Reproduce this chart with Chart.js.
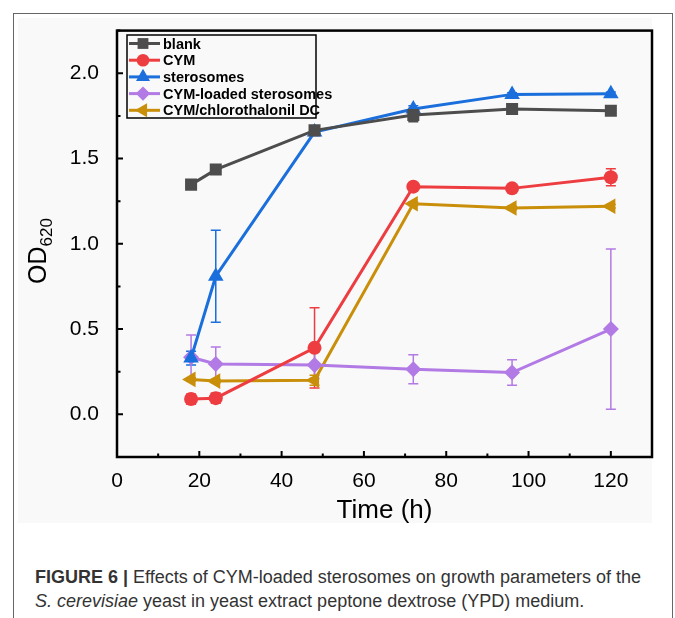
<!DOCTYPE html>
<html>
<head>
<meta charset="utf-8">
<script src="https://cdn.jsdelivr.net/npm/chart.js@4.4.0/dist/chart.umd.min.js"></script>
<style>
  body { margin: 0; background: #fff; width: 675px; height: 618px; overflow: hidden; position: relative; }
  #frame { position: absolute; left: 13px; top: 13px; width: 658px; height: 620px; border: 1px solid #666; border-bottom: none; }
  #bg { position: absolute; left: 18px; top: 18px; width: 634px; height: 505px; background: #f9f9f9; }
  #plot { position: absolute; left: 18px; top: 8px; width: 643px; height: 522px; }
  #caption { position: absolute; left: 35px; top: 565px; font-family: "Liberation Sans", Arial, sans-serif; font-size: 18px; line-height: 24px; color: #333; }
</style>
</head>
<body>
<div id="frame"></div>
<div id="bg"></div>
<div id="plot"><canvas id="growthChart"></canvas></div>
<div id="caption"><b>FIGURE 6 |</b> Effects of CYM-loaded sterosomes on growth parameters of the<br><i>S. cerevisiae</i> yeast in yeast extract peptone dextrose (YPD) medium.</div>
<script>
  // time points (h)
  const hours = [18, 24, 48, 72, 96, 120];

  const blank = [1.347, 1.435, 1.665, 1.755, 1.79, 1.78];
  const blankErr = [0.01, 0.01, 0.01, 0.04, 0.01, 0.01];
  const cym = [0.09, 0.095, 0.39, 1.335, 1.325, 1.39];
  const cymErr = [0.03, 0.03, 0.235, 0.01, 0.01, 0.05];
  const sterosomes = [0.33, 0.81, 1.655, 1.79, 1.876, 1.88];
  const sterosomesErr = [0.04, 0.27, 0.01, 0.02, 0.01, 0.01];
  const loaded = [0.335, 0.295, 0.29, 0.265, 0.245, 0.50];
  const loadedErr = [0.13, 0.1, 0.08, 0.085, 0.075, 0.47];
  const mixDC = [0.205, 0.195, 0.20, 1.235, 1.21, 1.22];
  const mixDCErr = [0.01, 0.01, 0.03, 0.01, 0.01, 0.01];

  const xTicks = [0, 20, 40, 60, 80, 100, 120];
  const yTicks = [0.0, 0.5, 1.0, 1.5, 2.0];

  function pts(ys) {
    return hours.map((h, i) => ({ x: h, y: ys[i] }));
  }

  function series(label, ys, errs, color, style, size, rot) {
    return {
      label: label,
      data: pts(ys),
      errors: errs,
      borderColor: color,
      backgroundColor: color,
      borderWidth: 3,
      pointStyle: style,
      pointRadius: size,
      pointRotation: rot || 0,
      pointBorderWidth: 0,
      pointBackgroundColor: color,
      tension: 0
    };
  }

  const datasets = [
    series('blank', blank, blankErr, '#4d4d4d', 'rect', 8.5),
    series('CYM', cym, cymErr, '#ee3d40', 'circle', 7),
    series('sterosomes', sterosomes, sterosomesErr, '#1a6fdc', 'triangle', 9),
    series('CYM-loaded sterosomes', loaded, loadedErr, '#b27ae4', 'rectRot', 8),
    series('CYM/chlorothalonil DC', mixDC, mixDCErr, '#c98f0a', 'triangle', 9, -90)
  ];

  // error bars, frame, inward ticks, legend and y title
  const extras = {
    id: 'extras',
    beforeDatasetsDraw(chart) {
      const ctx = chart.ctx;
      const xs = chart.scales.x, ys = chart.scales.y;
      chart.data.datasets.forEach(ds => {
        ctx.save();
        ctx.strokeStyle = ds.borderColor;
        ctx.lineWidth = 1.5;
        ds.data.forEach((p, i) => {
          const e = ds.errors[i];
          const px = xs.getPixelForValue(p.x);
          const top = ys.getPixelForValue(p.y + e);
          const bot = ys.getPixelForValue(p.y - e);
          ctx.beginPath();
          ctx.moveTo(px, top); ctx.lineTo(px, bot);
          ctx.moveTo(px - 5, top); ctx.lineTo(px + 5, top);
          ctx.moveTo(px - 5, bot); ctx.lineTo(px + 5, bot);
          ctx.stroke();
        });
        ctx.restore();
      });
    },
    afterDraw(chart) {
      const ctx = chart.ctx;
      const a = chart.chartArea;
      const xs = chart.scales.x, ys = chart.scales.y;
      ctx.save();
      ctx.strokeStyle = '#000';
      ctx.lineWidth = 2.5;
      ctx.strokeRect(a.left, a.top, a.right - a.left, a.bottom - a.top);

      ctx.lineWidth = 2;
      ctx.beginPath();
      for (let v = 0; v <= 130; v += 10) {
        const px = xs.getPixelForValue(v);
        const len = v % 20 === 0 ? 6 : 3.5;
        ctx.moveTo(px, a.bottom); ctx.lineTo(px, a.bottom - len);
      }
      for (let v = -0.25; v <= 2.25; v += 0.25) {
        const py = ys.getPixelForValue(v);
        const len = Math.abs(v * 2 - Math.round(v * 2)) < 1e-6 ? 6 : 3.5;
        ctx.moveTo(a.left, py); ctx.lineTo(a.left + len, py);
      }
      ctx.stroke();

      // legend
      const lx = 109, ly = 27, lw = 189, lh = 83;
      ctx.lineWidth = 1.5;
      ctx.strokeRect(lx, ly, lw, lh);
      ctx.font = 'bold 14.5px "Liberation Sans", Arial, sans-serif';
      ctx.textBaseline = 'middle';
      chart.data.datasets.forEach((ds, i) => {
        const cy = ly + 8.5 + i * 16.7;
        ctx.strokeStyle = ds.borderColor;
        ctx.lineWidth = 3;
        ctx.beginPath();
        ctx.moveTo(lx + 2, cy); ctx.lineTo(lx + 33, cy);
        ctx.stroke();
        ctx.fillStyle = ds.borderColor;
        Chart.helpers.drawPoint(ctx, {
          pointStyle: ds.pointStyle,
          radius: ds.pointRadius * 0.9,
          rotation: ds.pointRotation,
          borderWidth: 0
        }, lx + 16, cy);
        ctx.fillStyle = '#000';
        ctx.fillText(ds.label, lx + 36, cy + 1);
      });

      // y title with subscript
      ctx.translate(28, 276);
      ctx.rotate(-Math.PI / 2);
      ctx.fillStyle = '#000';
      ctx.textBaseline = 'alphabetic';
      ctx.font = '25px "Liberation Sans", Arial, sans-serif';
      ctx.fillText('OD', 0, 0);
      const w = ctx.measureText('OD').width;
      ctx.font = '17px "Liberation Sans", Arial, sans-serif';
      ctx.fillText('620', w, 6);
      ctx.restore();
    }
  };

  const ctx = document.getElementById('growthChart').getContext('2d');
  new Chart(ctx, {
    type: 'line',
    data: { datasets: datasets },
    options: {
      responsive: true,
      maintainAspectRatio: false,
      animation: false,
      layout: { padding: { top: 0, right: 2, left: 0, bottom: 0 } },
      plugins: { legend: { display: false }, tooltip: { enabled: false } },
      scales: {
        x: {
          type: 'linear',
          min: 0,
          max: 130,
          afterBuildTicks: s => { s.ticks = xTicks.map(v => ({ value: v })); },
          afterFit: s => { s.height = 73; },
          grid: { display: false },
          border: { display: false },
          ticks: { color: '#000', padding: 4, font: { size: 21, family: '"Liberation Sans", Arial' } },
          title: {
            display: true,
            text: 'Time (h)',
            color: '#000',
            padding: { top: 4 },
            font: { size: 26, family: '"Liberation Sans", Arial' }
          }
        },
        y: {
          min: -0.25,
          max: 2.25,
          afterBuildTicks: s => { s.ticks = yTicks.map(v => ({ value: v })); },
          afterFit: s => { s.width = 99; },
          grid: { display: false },
          border: { display: false },
          ticks: {
            color: '#000',
            padding: 10,
            font: { size: 21, family: '"Liberation Sans", Arial' },
            callback: v => v.toFixed(1)
          }
        }
      }
    },
    plugins: [extras]
  });
</script>
</body>
</html>
